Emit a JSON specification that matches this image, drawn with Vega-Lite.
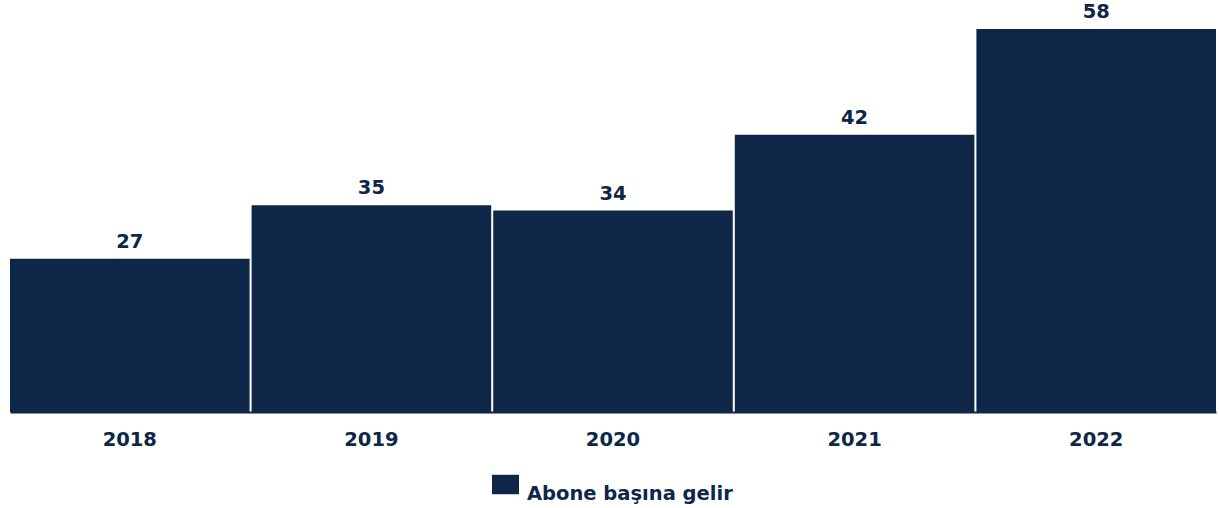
{
  "$schema": "https://vega.github.io/schema/vega-lite/v6.json",
  "width": 1206,
  "height": 412,
  "autosize": {"type": "none"},
  "padding": {"left": 10, "top": 0, "right": 3, "bottom": 96},
  "background": "white",
  "config": {"view": {"stroke": null}, "font": "DejaVu Sans"},
  "data": {
    "values": [
      {"year": "2018", "value": 23.2, "label": "27", "series": "Abone başına gelir"},
      {"year": "2019", "value": 31.3, "label": "35", "series": "Abone başına gelir"},
      {"year": "2020", "value": 30.5, "label": "34", "series": "Abone başına gelir"},
      {"year": "2021", "value": 42.0, "label": "42", "series": "Abone başına gelir"},
      {"year": "2022", "value": 58.0, "label": "58", "series": "Abone başına gelir"}
    ]
  },
  "encoding": {
    "x": {
      "field": "year",
      "type": "nominal",
      "scale": {"paddingInner": 0.0083, "paddingOuter": 0},
      "axis": {
        "title": null,
        "labelAngle": 0,
        "ticks": false,
        "domainColor": "#0e2749",
        "domainWidth": 2,
        "labelFont": "DejaVu Sans",
        "labelFontWeight": "bold",
        "labelFontSize": 19.5,
        "labelColor": "#0e2749",
        "labelPadding": 18,
        "grid": false
      }
    },
    "y": {
      "field": "value",
      "type": "quantitative",
      "scale": {"domain": [0, 62.4], "nice": false},
      "axis": null
    }
  },
  "layer": [
    {
      "mark": {"type": "bar"},
      "encoding": {
        "color": {
          "field": "series",
          "type": "nominal",
          "scale": {"range": ["#0e2749"]},
          "legend": {
            "title": null,
            "orient": "none",
            "legendX": 482,
            "legendY": 471,
            "padding": 0,
            "symbolType": "M-1,-0.72H1V0.72H-1Z",
            "symbolSize": 729,
            "symbolStrokeWidth": 0,
            "symbolOpacity": 1,
            "labelFont": "DejaVu Sans",
            "labelFontWeight": "bold",
            "labelFontSize": 19.5,
            "labelColor": "#0e2749",
            "labelOffset": 8,
            "labelBaseline": "top",
            "labelLimit": 400
          }
        }
      }
    },
    {
      "mark": {
        "type": "text",
        "baseline": "alphabetic",
        "dy": -11,
        "font": "DejaVu Sans",
        "fontWeight": "bold",
        "fontSize": 19.5,
        "color": "#0e2749"
      },
      "encoding": {"text": {"field": "label"}}
    }
  ]
}
